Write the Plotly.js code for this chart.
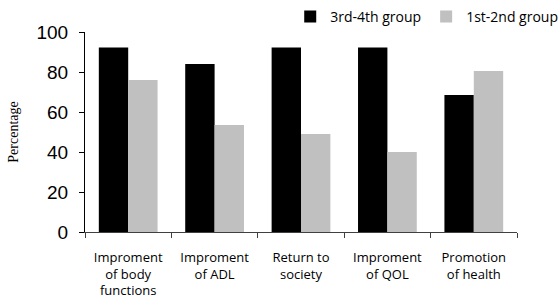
<!DOCTYPE html>
<html>
<head>
<meta charset="utf-8">
<script src="https://cdn.plot.ly/plotly-3.0.1.min.js"></script>
<style>html,body{margin:0;padding:0;background:#fff;}#chart{width:560px;height:305px;}</style>
</head>
<body>
<div id="chart"></div>
<script>
const categories = [
  "Improment<br>of body<br>functions",
  "Improment<br>of ADL",
  "Return to<br>society",
  "Improment<br>of QOL",
  "Promotion<br>of health"
];
const seriesNames = ["3rd-4th group", "1st-2nd group"];
const group34 = [92.3, 84, 92.3, 92.3, 68.5];
const group12 = [76, 53.5, 49, 40, 80.5];
const yTicks = [0, 20, 40, 60, 80, 100];

const traces = [
  {type: "bar", name: seriesNames[0], x: categories, y: group34, marker: {color: "#000000"}},
  {type: "bar", name: seriesNames[1], x: categories, y: group12, marker: {color: "#c0c0c0"}}
];

const layout = {
  width: 560, height: 305,
  margin: {l: 85, r: 43, t: 32, b: 73, pad: 0, autoexpand: false},
  paper_bgcolor: "#ffffff", plot_bgcolor: "#ffffff",
  barmode: "group", bargap: 0.32, bargroupgap: 0,
  showlegend: true,
  legend: {orientation: "h", x: 1.107, xanchor: "right", y: 1.075, yanchor: "middle",
           font: {family: "Open Sans", size: 14, color: "#000"}, traceorder: "normal",
           itemwidth: 30, tracegroupgap: 0, bgcolor: "rgba(0,0,0,0)"},
  xaxis: {
    type: "category", tickson: "boundaries", ticks: "outside", ticklen: 5, tickcolor: "#404040",
    showline: true, linecolor: "#404040", linewidth: 1, showgrid: false,
    tickfont: {family: "Open Sans", size: 13, color: "#000"}, automargin: false,
    ticklabelstandoff: 13
  },
  yaxis: {
    range: [0, 100], tickvals: yTicks, ticks: "outside", ticklen: 5, tickcolor: "#000",
    showline: true, linecolor: "#000", linewidth: 1, showgrid: false, zeroline: false,
    tickfont: {family: "Liberation Sans", size: 19, color: "#000"}, automargin: false,
    ticklabelstandoff: 7,
    title: {text: "Percentage", font: {family: "Liberation Serif", size: 14, color: "#000"}, standoff: 14}
  }
};

Plotly.newPlot("chart", traces, layout, {displayModeBar: false, staticPlot: true});
</script>
</body>
</html>
